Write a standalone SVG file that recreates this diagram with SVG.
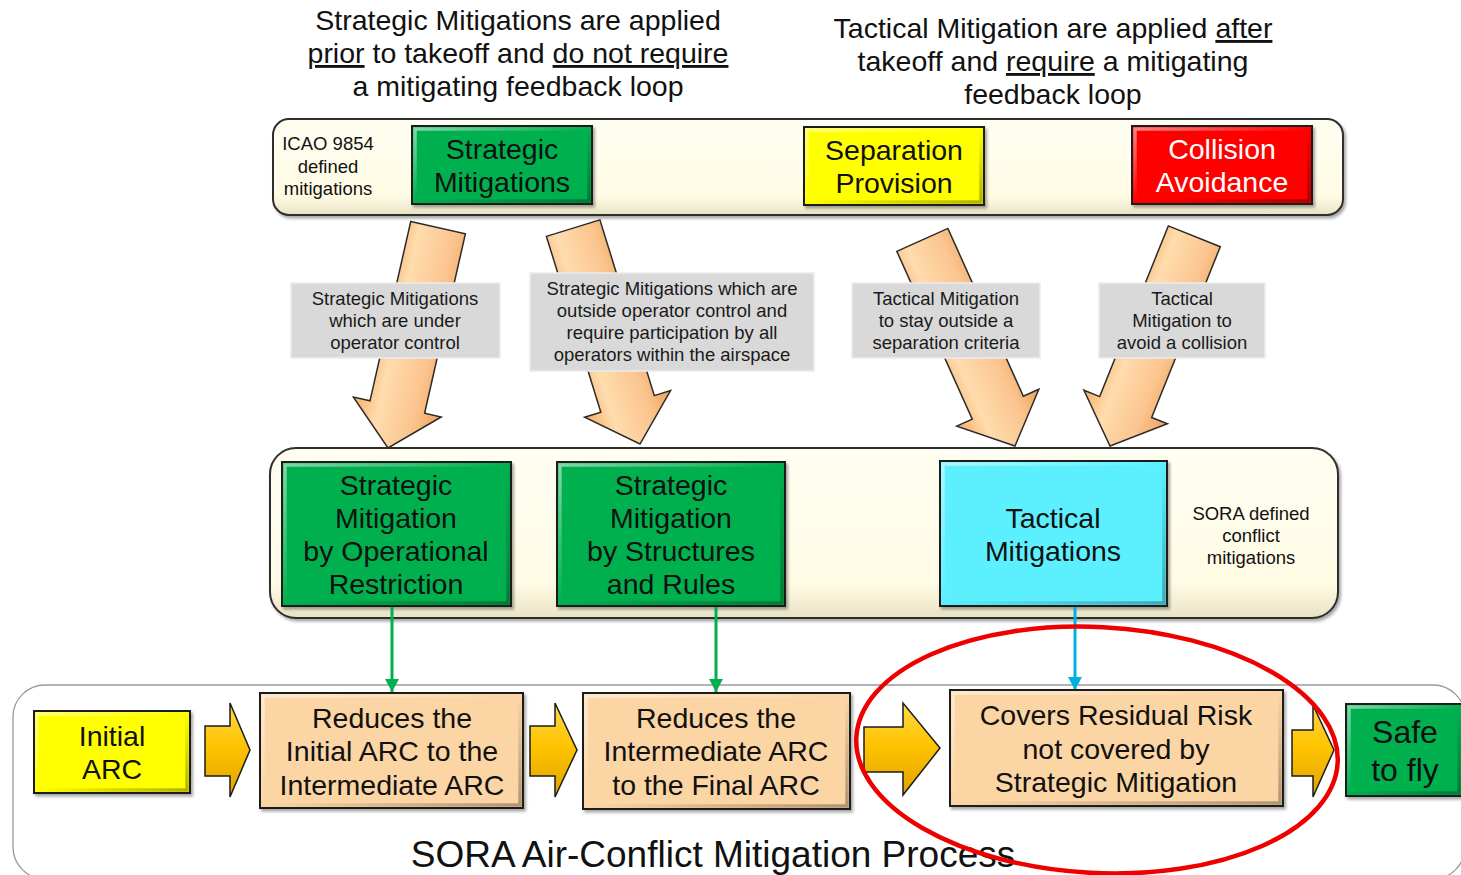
<svg xmlns="http://www.w3.org/2000/svg" width="1461" height="875" viewBox="0 0 1461 875">
  <defs>
    <style>
      text { font-family: "Liberation Sans", Arial, sans-serif; fill: #111; }
      .hdr { font-size: 28.5px; text-anchor: middle; }
      .box { font-size: 28.5px; text-anchor: middle; }
      .sm { font-size: 18.5px; text-anchor: middle; }
      .lbl { font-size: 18.5px; text-anchor: middle; fill: #1a1a1a; }
      .band { fill: url(#bandFill); stroke: #2f2f2f; stroke-width: 2; }
      .green { fill: #00b050; stroke: #1b1b1b; stroke-width: 2; }
      .yellow { fill: #ffff00; stroke: #1b1b1b; stroke-width: 2; }
      .red { fill: #ff0000; stroke: #1b1b1b; stroke-width: 2; }
      .cyan { fill: #5cf0ff; stroke: #1b1b1b; stroke-width: 2; }
      .peach { fill: #fcd5a4; stroke: #1b1b1b; stroke-width: 2; }
      .bevel { fill: none; stroke: url(#bevel); stroke-width: 3.5; }
      .note { fill: #d9d9d9; stroke: #ececec; stroke-width: 1.5; }
      .diag { fill: url(#diagFill); stroke: #2a2a2a; stroke-width: 1.5; }
      .step { fill: url(#stepFill); stroke: #1b1b1b; stroke-width: 1.5; }
    </style>
    <linearGradient id="bandFill" x1="0" y1="0" x2="0" y2="1">
      <stop offset="0" stop-color="#fffef2"/>
      <stop offset="0.8" stop-color="#fffbe4"/>
      <stop offset="1" stop-color="#e9e3c4"/>
    </linearGradient>
    <linearGradient id="bevel" x1="0" y1="0" x2="1" y2="1">
      <stop offset="0" stop-color="#ffffff" stop-opacity="0.5"/>
      <stop offset="0.5" stop-color="#ffffff" stop-opacity="0"/>
      <stop offset="0.5" stop-color="#000000" stop-opacity="0"/>
      <stop offset="1" stop-color="#000000" stop-opacity="0.3"/>
    </linearGradient>
    <linearGradient id="diagFill" x1="0" y1="0" x2="1" y2="0">
      <stop offset="0" stop-color="#f6ad64"/>
      <stop offset="0.3" stop-color="#ffdcae"/>
      <stop offset="0.7" stop-color="#fbc58f"/>
      <stop offset="1" stop-color="#eea35a"/>
    </linearGradient>
    <linearGradient id="stepFill" x1="0" y1="0" x2="0" y2="1">
      <stop offset="0" stop-color="#ffd84a"/>
      <stop offset="0.45" stop-color="#ffc400"/>
      <stop offset="1" stop-color="#e0a300"/>
    </linearGradient>
    <filter id="shadow" x="-5%" y="-10%" width="110%" height="125%">
      <feDropShadow dx="2" dy="2.5" stdDeviation="1.8" flood-color="#000" flood-opacity="0.35"/>
    </filter>
    <marker id="headGreen" markerUnits="userSpaceOnUse" markerWidth="16" markerHeight="16" refX="13" refY="7" orient="auto">
      <path d="M0,0 L13,7 L0,14 z" fill="#00b050"/>
    </marker>
    <marker id="headBlue" markerUnits="userSpaceOnUse" markerWidth="16" markerHeight="16" refX="13" refY="7" orient="auto">
      <path d="M0,0 L13,7 L0,14 z" fill="#00b0e0"/>
    </marker>
    <!-- wide block arrow, tip at origin, pointing down -->
    <polygon id="diagArrow" points="-28,-226 28,-226 28,-42 45,-42 0,0 -45,-42 -28,-42"/>
  </defs>

  <rect width="1461" height="875" fill="#ffffff"/>

  <!-- headings -->
  <g id="heading-strategic">
    <text class="hdr" x="518" y="30">Strategic Mitigations are applied</text>
    <text class="hdr" x="518" y="63"><tspan text-decoration="underline">prior</tspan> to takeoff and <tspan text-decoration="underline">do not require</tspan></text>
    <text class="hdr" x="518" y="96">a mitigating feedback loop</text>
  </g>
  <g id="heading-tactical">
    <text class="hdr" x="1053" y="38">Tactical Mitigation are applied <tspan text-decoration="underline">after</tspan></text>
    <text class="hdr" x="1053" y="71">takeoff and <tspan text-decoration="underline">require</tspan> a mitigating</text>
    <text class="hdr" x="1053" y="104">feedback loop</text>
  </g>

  <!-- ICAO band -->
  <g id="icao-band">
    <rect class="band" x="273" y="119" width="1070" height="96" rx="16" filter="url(#shadow)"/>
    <text class="sm" x="328" y="150">ICAO 9854</text>
    <text class="sm" x="328" y="173">defined</text>
    <text class="sm" x="328" y="195">mitigations</text>
  </g>
  <g id="icao-strategic">
    <rect class="green" x="412" y="126" width="180" height="78" filter="url(#shadow)"/>
    <rect class="bevel" x="415" y="129" width="174" height="72"/>
    <text class="box" x="502" y="159">Strategic</text>
    <text class="box" x="502" y="192">Mitigations</text>
  </g>
  <g id="icao-separation">
    <rect class="yellow" x="804" y="127" width="180" height="78" filter="url(#shadow)"/>
    <rect class="bevel" x="807" y="130" width="174" height="72"/>
    <text class="box" x="894" y="160">Separation</text>
    <text class="box" x="894" y="193">Provision</text>
  </g>
  <g id="icao-collision">
    <rect class="red" x="1132" y="126" width="180" height="78" filter="url(#shadow)"/>
    <rect class="bevel" x="1135" y="129" width="174" height="72"/>
    <text class="box" x="1222" y="159" style="fill:#ffffff">Collision</text>
    <text class="box" x="1222" y="192" style="fill:#ffffff">Avoidance</text>
  </g>

  <!-- SORA band -->
  <g id="sora-band">
    <rect class="band" x="270" y="448" width="1068" height="170" rx="26" filter="url(#shadow)"/>
    <text class="sm" x="1251" y="520">SORA defined</text>
    <text class="sm" x="1251" y="542">conflict</text>
    <text class="sm" x="1251" y="564">mitigations</text>
  </g>

  <!-- mapping arrows between bands -->
  <g id="mapping-arrows">
    <use href="#diagArrow" class="diag" transform="translate(388,448) rotate(12.8)"/>
    <use href="#diagArrow" class="diag" transform="translate(640,444) rotate(-17.2)"/>
    <use href="#diagArrow" class="diag" transform="translate(1015,446) rotate(-24.2)"/>
    <use href="#diagArrow" class="diag" transform="translate(1110,446) rotate(21.9)"/>
  </g>

  <g id="note-under-control">
    <rect class="note" x="291" y="283" width="209" height="75"/>
    <text class="lbl" x="395" y="305">Strategic Mitigations</text>
    <text class="lbl" x="395" y="327">which are under</text>
    <text class="lbl" x="395" y="349">operator control</text>
  </g>
  <g id="note-outside-control">
    <rect class="note" x="530" y="273" width="284" height="98"/>
    <text class="lbl" x="672" y="295">Strategic Mitigations which are</text>
    <text class="lbl" x="672" y="317">outside operator control and</text>
    <text class="lbl" x="672" y="339">require participation by all</text>
    <text class="lbl" x="672" y="361">operators within the airspace</text>
  </g>
  <g id="note-separation">
    <rect class="note" x="852" y="283" width="188" height="75"/>
    <text class="lbl" x="946" y="305">Tactical Mitigation</text>
    <text class="lbl" x="946" y="327">to stay outside a</text>
    <text class="lbl" x="946" y="349">separation criteria</text>
  </g>
  <g id="note-collision">
    <rect class="note" x="1099" y="283" width="166" height="75"/>
    <text class="lbl" x="1182" y="305">Tactical</text>
    <text class="lbl" x="1182" y="327">Mitigation to</text>
    <text class="lbl" x="1182" y="349">avoid a collision</text>
  </g>

  <g id="sora-operational">
    <rect class="green" x="282" y="462" width="229" height="144" filter="url(#shadow)"/>
    <rect class="bevel" x="285" y="465" width="223" height="138"/>
    <text class="box" x="396" y="495">Strategic</text>
    <text class="box" x="396" y="528">Mitigation</text>
    <text class="box" x="396" y="561">by Operational</text>
    <text class="box" x="396" y="594">Restriction</text>
  </g>
  <g id="sora-structures">
    <rect class="green" x="557" y="462" width="228" height="144" filter="url(#shadow)"/>
    <rect class="bevel" x="560" y="465" width="222" height="138"/>
    <text class="box" x="671" y="495">Strategic</text>
    <text class="box" x="671" y="528">Mitigation</text>
    <text class="box" x="671" y="561">by Structures</text>
    <text class="box" x="671" y="594">and Rules</text>
  </g>
  <g id="sora-tactical">
    <rect class="cyan" x="940" y="461" width="227" height="145" filter="url(#shadow)"/>
    <rect class="bevel" x="943" y="464" width="221" height="139"/>
    <text class="box" x="1053" y="528">Tactical</text>
    <text class="box" x="1053" y="561">Mitigations</text>
  </g>

  <!-- process band -->
  <g id="process-band">
    <rect x="13" y="685" width="1452" height="194" rx="32" fill="#ffffff" stroke="#9a9a9a" stroke-width="1.3"/>
    <text x="713" y="867" style="font-size:37px;text-anchor:middle">SORA Air-Conflict Mitigation Process</text>
  </g>

  <!-- connectors -->
  <g id="connectors">
    <line x1="392" y1="607" x2="392" y2="692" stroke="#00b050" stroke-width="3" marker-end="url(#headGreen)"/>
    <line x1="716" y1="607" x2="716" y2="692" stroke="#00b050" stroke-width="3" marker-end="url(#headGreen)"/>
    <line x1="1075" y1="607" x2="1075" y2="690" stroke="#00b0e0" stroke-width="3" marker-end="url(#headBlue)"/>
    <polygon class="step" points="205,726 230,726 230,703 250,750 230,797 230,776 205,776"/>
    <polygon class="step" points="530,726 555,726 555,703 577,750 555,797 555,776 530,776"/>
    <polygon class="step" points="864,727 903,727 903,703 940,748 903,795 903,772 864,772"/>
    <polygon class="step" points="1292,730 1313,730 1313,705 1334,750 1313,797 1313,776 1292,776"/>
  </g>

  <g id="initial-arc">
    <rect class="yellow" x="34" y="711" width="156" height="82" filter="url(#shadow)"/>
    <rect class="bevel" x="37" y="714" width="150" height="76"/>
    <text class="box" x="112" y="746">Initial</text>
    <text class="box" x="112" y="779">ARC</text>
  </g>
  <g id="reduce-initial">
    <rect class="peach" x="260" y="693" width="263" height="115" filter="url(#shadow)"/>
    <rect class="bevel" x="263" y="696" width="257" height="109"/>
    <text class="box" x="392" y="728">Reduces the</text>
    <text class="box" x="392" y="761">Initial ARC to the</text>
    <text class="box" x="392" y="795">Intermediate ARC</text>
  </g>
  <g id="reduce-intermediate">
    <rect class="peach" x="583" y="693" width="267" height="116" filter="url(#shadow)"/>
    <rect class="bevel" x="586" y="696" width="261" height="110"/>
    <text class="box" x="716" y="728">Reduces the</text>
    <text class="box" x="716" y="761">Intermediate ARC</text>
    <text class="box" x="716" y="795">to the Final ARC</text>
  </g>
  <g id="residual-risk">
    <rect class="peach" x="950" y="690" width="333" height="116" filter="url(#shadow)"/>
    <rect class="bevel" x="953" y="693" width="327" height="110"/>
    <text class="box" x="1116" y="725">Covers Residual Risk</text>
    <text class="box" x="1116" y="759">not covered by</text>
    <text class="box" x="1116" y="792">Strategic Mitigation</text>
  </g>
  <g id="safe-to-fly">
    <rect class="green" x="1346" y="704" width="116" height="92" filter="url(#shadow)"/>
    <rect class="bevel" x="1349" y="707" width="110" height="86"/>
    <text x="1405" y="743" style="font-size:32px;text-anchor:middle">Safe</text>
    <text x="1405" y="781" style="font-size:32px;text-anchor:middle">to fly</text>
  </g>

  <!-- highlight ring -->
  <ellipse id="highlight" cx="1097" cy="750" rx="241" ry="123" transform="rotate(3 1097 750)" fill="none" stroke="#ee0000" stroke-width="4.5"/>
</svg>
